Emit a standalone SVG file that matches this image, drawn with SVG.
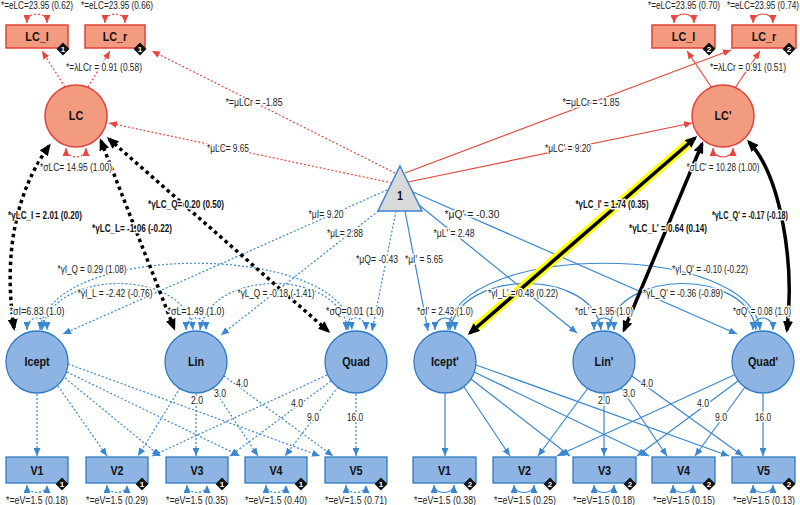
<svg xmlns="http://www.w3.org/2000/svg" width="800" height="505" viewBox="0 0 800 505">
<style>
text{font-family:"Liberation Sans",Arial,sans-serif}
.t{font-size:10.5px;fill:#222;text-anchor:middle;paint-order:stroke;stroke:#fff;stroke-width:3px;stroke-linejoin:round}
.tb{font-weight:bold;fill:#111}
.nl{font-size:13.5px;font-weight:bold;fill:#111;text-anchor:middle;transform:scaleX(0.8);transform-box:fill-box;transform-origin:center}
.bt{font-size:8px;font-weight:bold;fill:#fff;text-anchor:middle}
.rn{fill:#f29b7f;stroke:#e0413a;stroke-width:1.5}
.bn{fill:#8db4e2;stroke:#2e7ac4;stroke-width:1.3}
.tri{fill:#d9d9d9;stroke:#3a87cf;stroke-width:1.5}
.badge{fill:#111}
.lr{stroke:#e8473f;stroke-width:1.2;fill:none;marker-end:url(#mr)}
.lb{stroke:#3a87cf;stroke-width:1.2;fill:none;marker-end:url(#mb)}
.d{stroke-dasharray:2 2}
.two.lr{marker-start:url(#mr)}
.two.lb{marker-start:url(#mb)}
.k{stroke:#000;stroke-width:3.5;fill:none;marker-start:url(#mk);marker-end:url(#mk)}
.kd{stroke-dasharray:3.5 3.5}
.hl{stroke:#ffff00;stroke-width:9;fill:none}
</style>
<defs>
<marker id="mb" markerUnits="userSpaceOnUse" markerWidth="8" markerHeight="7" refX="8" refY="3.5" orient="auto-start-reverse"><path d="M0,0L8,3.5L0,7z" fill="#3a87cf"/></marker>
<marker id="mr" markerUnits="userSpaceOnUse" markerWidth="8" markerHeight="7" refX="8" refY="3.5" orient="auto-start-reverse"><path d="M0,0L8,3.5L0,7z" fill="#e8473f"/></marker>
<marker id="mk" markerUnits="userSpaceOnUse" markerWidth="12" markerHeight="10" refX="9" refY="5" orient="auto-start-reverse"><path d="M0,0L12,5L0,10z" fill="#000"/></marker>
</defs>
<rect width="800" height="505" fill="#fff"/>

<g id="connectors">
<path class="lr d" d="M65,87L42,51"/>
<path class="lr d" d="M88,87L110,51"/>
<path class="lr" d="M712,88L687,51"/>
<path class="lr" d="M735,88L760,51"/>
<path class="lr d" d="M395,173L152,51"/>
<path class="lr d" d="M392,183L109,123"/>
<path class="lr" d="M405,173L731,50"/>
<path class="lr" d="M408,182L692,123"/>
<path class="lr d two" d="M27,23C27,11 47,11 47,23"/>
<path class="lr d two" d="M105,23C105,11 125,11 125,23"/>
<path class="lr two" d="M674,23C674,11 694,11 694,23"/>
<path class="lr two" d="M753,23C753,11 773,11 773,23"/>
<path class="lr d two" d="M66,148C66,160 86,160 86,148"/>
<path class="lr two" d="M713,148C713,160 733,160 733,148"/>
<path class="lb d" d="M387,190L63,334"/>
<path class="lb d" d="M391,201L221,335"/>
<path class="lb d" d="M396,211L372,331"/>
<path class="lb" d="M413,192L737,334"/>
<path class="lb" d="M419,205L577,333"/>
<path class="lb" d="M405,211L428,331"/>
<path class="lb d two" d="M40,330C48,241 344,241 352,330"/>
<path class="lb d two" d="M42,330C52,268 186,268 193,330"/>
<path class="lb d two" d="M200,330C210,268 340,268 348,330"/>
<path class="lb two" d="M448,330C456,241 752,241 760,330"/>
<path class="lb two" d="M450,330C460,268 594,268 601,330"/>
<path class="lb two" d="M608,330C618,268 748,268 756,330"/>
<path class="lb d two" d="M27,330C27,314 47,314 47,330"/>
<path class="lb d two" d="M186,330C186,314 206,314 206,330"/>
<path class="lb d two" d="M346,330C346,314 366,314 366,330"/>
<path class="lb two" d="M435,330C435,314 455,314 455,330"/>
<path class="lb two" d="M594,330C594,314 614,314 614,330"/>
<path class="lb two" d="M753,330C753,314 773,314 773,330"/>
<path class="lb d" d="M37,394L37,456"/>
<path class="lb d" d="M58,386L107,456"/>
<path class="lb d" d="M65,378L160,456"/>
<path class="lb d" d="M67,372L240,456"/>
<path class="lb d" d="M68,364L320,456"/>
<path class="lb d" d="M180,388L138,456"/>
<path class="lb d" d="M196,394L196,456"/>
<path class="lb d" d="M213,388L258,456"/>
<path class="lb d" d="M224,376L333,456"/>
<path class="lb d" d="M327,375L152,456"/>
<path class="lb d" d="M331,381L230,456"/>
<path class="lb d" d="M338,387L285,456"/>
<path class="lb d" d="M356,394L356,456"/>
<path class="lb" d="M445,394L445,456"/>
<path class="lb" d="M464,387L510,456"/>
<path class="lb" d="M471,379L570,456"/>
<path class="lb" d="M474,372L649,456"/>
<path class="lb" d="M476,365L729,456"/>
<path class="lb" d="M588,388L538,456"/>
<path class="lb" d="M604,394L604,456"/>
<path class="lb" d="M621,388L667,456"/>
<path class="lb" d="M632,376L743,456"/>
<path class="lb" d="M734,375L557,456"/>
<path class="lb" d="M738,381L637,456"/>
<path class="lb" d="M745,387L695,456"/>
<path class="lb" d="M763,394L763,456"/>
<path class="lb d two" d="M27,485C27,495 47,495 47,485"/>
<path class="lb d two" d="M107,485C107,495 127,495 127,485"/>
<path class="lb d two" d="M187,485C187,495 207,495 207,485"/>
<path class="lb d two" d="M266,485C266,495 286,495 286,485"/>
<path class="lb d two" d="M346,485C346,495 366,495 366,485"/>
<path class="lb two" d="M434,485C434,495 454,495 454,485"/>
<path class="lb two" d="M514,485C514,495 534,495 534,485"/>
<path class="lb two" d="M594,485C594,495 614,495 614,485"/>
<path class="lb two" d="M673,485C673,495 693,495 693,485"/>
<path class="lb two" d="M753,485C753,495 773,495 773,485"/>
<path class="k kd" d="M14,328C5,268 10,200 49,146"/>
<path class="k kd" d="M101,141L174,328"/>
<path class="k kd" d="M109,139L328,331"/>
<path class="hl" d="M474,329L691,141"/>
<path class="k" d="M470,333L695,138"/>
<path class="k" d="M702,144L624,330"/>
<path class="k" d="M749,142C780,175 795,260 787,330"/>
</g>

<g id="labels">
<text class="t" x="37" y="8.5" textLength="72" lengthAdjust="spacingAndGlyphs">*=eLC=23.95 (0.62)</text>
<text class="t" x="117" y="8.5" textLength="72" lengthAdjust="spacingAndGlyphs">*=eLC=23.95 (0.66)</text>
<text class="t" x="684" y="8.5" textLength="72" lengthAdjust="spacingAndGlyphs">*=eLC=23.95 (0.70)</text>
<text class="t" x="763" y="8.5" textLength="72" lengthAdjust="spacingAndGlyphs">*=eLC=23.95 (0.74)</text>
<text class="t" x="104" y="70.5" textLength="76" lengthAdjust="spacingAndGlyphs">*=λLCr = 0.91 (0.58)</text>
<text class="t" x="748" y="70.5" textLength="76" lengthAdjust="spacingAndGlyphs">*=λLCr = 0.91 (0.51)</text>
<text class="t" x="254" y="105.5" textLength="57" lengthAdjust="spacingAndGlyphs">*=μLCr = -1.85</text>
<text class="t" x="591" y="105.5" textLength="57" lengthAdjust="spacingAndGlyphs">*=μLCr = -1.85</text>
<text class="t" x="228" y="151.5" textLength="42" lengthAdjust="spacingAndGlyphs">*μLC= 9.65</text>
<text class="t" x="568" y="151.5" textLength="46" lengthAdjust="spacingAndGlyphs">*μLC' = 9.20</text>
<text class="t" x="76" y="170.5" textLength="72" lengthAdjust="spacingAndGlyphs">*σLC= 14.95 (1.00)</text>
<text class="t" x="723" y="170.5" textLength="73" lengthAdjust="spacingAndGlyphs">*σLC' = 10.28 (1.00)</text>
<text class="t tb" x="45" y="218.5" textLength="74" lengthAdjust="spacingAndGlyphs">*γLC_I = 2.01 (0.20)</text>
<text class="t tb" x="132" y="231.5" textLength="80" lengthAdjust="spacingAndGlyphs">*γLC_L= -1.06 (-0.22)</text>
<text class="t tb" x="186" y="207.5" textLength="76" lengthAdjust="spacingAndGlyphs">*γLC_Q= 0.20 (0.50)</text>
<text class="t tb" x="612" y="207.5" textLength="73" lengthAdjust="spacingAndGlyphs">*γLC_I' = 1.74 (0.35)</text>
<text class="t tb" x="668" y="231.5" textLength="78" lengthAdjust="spacingAndGlyphs">*γLC_L' = 0.64 (0.14)</text>
<text class="t tb" x="750" y="218.5" textLength="76" lengthAdjust="spacingAndGlyphs">*γLC_Q' = -0.17 (-0.18)</text>
<text class="t" x="326" y="217.5" textLength="35" lengthAdjust="spacingAndGlyphs">*μI= 9.20</text>
<text class="t" x="345" y="236.5" textLength="36" lengthAdjust="spacingAndGlyphs">*μL= 2.88</text>
<text class="t" x="377" y="262.5" textLength="42" lengthAdjust="spacingAndGlyphs">*μQ= -0.43</text>
<text class="t" x="472" y="217.5" textLength="55" lengthAdjust="spacingAndGlyphs">*μQ' = -0.30</text>
<text class="t" x="454" y="236.5" textLength="41" lengthAdjust="spacingAndGlyphs">*μL' = 2.48</text>
<text class="t" x="424" y="262.5" textLength="38" lengthAdjust="spacingAndGlyphs">*μI' = 5.65</text>
<text class="t" x="92" y="272.5" textLength="69" lengthAdjust="spacingAndGlyphs">*γI_Q = 0.29 (1.08)</text>
<text class="t" x="115" y="296.5" textLength="75" lengthAdjust="spacingAndGlyphs">*γI_L = -2.42 (-0.76)</text>
<text class="t" x="276" y="296.5" textLength="77" lengthAdjust="spacingAndGlyphs">*γL_Q = -0.18 (-1.41)</text>
<text class="t" x="710" y="272.5" textLength="76" lengthAdjust="spacingAndGlyphs">*γI_Q' = -0.10 (-0.22)</text>
<text class="t" x="523" y="296.5" textLength="70" lengthAdjust="spacingAndGlyphs">*γI_L' = 0.48 (0.22)</text>
<text class="t" x="683" y="296.5" textLength="80" lengthAdjust="spacingAndGlyphs">*γL_Q' = -0.36 (-0.89)</text>
<text class="t" x="37" y="314.5" textLength="55" lengthAdjust="spacingAndGlyphs">*σI=6.83 (1.0)</text>
<text class="t" x="196" y="314.5" textLength="57" lengthAdjust="spacingAndGlyphs">*σL=1.49 (1.0)</text>
<text class="t" x="355" y="314.5" textLength="58" lengthAdjust="spacingAndGlyphs">*σQ=0.01 (1.0)</text>
<text class="t" x="445" y="314.5" textLength="56" lengthAdjust="spacingAndGlyphs">*σI' = 2.43 (1.0)</text>
<text class="t" x="604" y="314.5" textLength="58" lengthAdjust="spacingAndGlyphs">*σL' = 1.95 (1.0)</text>
<text class="t" x="762" y="314.5" textLength="58" lengthAdjust="spacingAndGlyphs">*σQ' = 0.08 (1.0)</text>
<text class="t" x="197" y="403.5" textLength="12" lengthAdjust="spacingAndGlyphs">2.0</text>
<text class="t" x="220" y="396.5" textLength="12" lengthAdjust="spacingAndGlyphs">3.0</text>
<text class="t" x="242" y="386.5" textLength="12" lengthAdjust="spacingAndGlyphs">4.0</text>
<text class="t" x="297" y="406.5" textLength="12" lengthAdjust="spacingAndGlyphs">4.0</text>
<text class="t" x="313" y="420.5" textLength="12" lengthAdjust="spacingAndGlyphs">9.0</text>
<text class="t" x="355" y="420.5" textLength="16" lengthAdjust="spacingAndGlyphs">16.0</text>
<text class="t" x="604" y="403.5" textLength="12" lengthAdjust="spacingAndGlyphs">2.0</text>
<text class="t" x="629" y="396.5" textLength="12" lengthAdjust="spacingAndGlyphs">3.0</text>
<text class="t" x="647" y="386.5" textLength="12" lengthAdjust="spacingAndGlyphs">4.0</text>
<text class="t" x="703" y="406.5" textLength="12" lengthAdjust="spacingAndGlyphs">4.0</text>
<text class="t" x="721" y="420.5" textLength="12" lengthAdjust="spacingAndGlyphs">9.0</text>
<text class="t" x="763" y="420.5" textLength="16" lengthAdjust="spacingAndGlyphs">16.0</text>
<text class="t" x="37" y="503.5" textLength="62" lengthAdjust="spacingAndGlyphs">*=eV=1.5 (0.18)</text>
<text class="t" x="117" y="503.5" textLength="62" lengthAdjust="spacingAndGlyphs">*=eV=1.5 (0.29)</text>
<text class="t" x="197" y="503.5" textLength="62" lengthAdjust="spacingAndGlyphs">*=eV=1.5 (0.35)</text>
<text class="t" x="276" y="503.5" textLength="62" lengthAdjust="spacingAndGlyphs">*=eV=1.5 (0.40)</text>
<text class="t" x="356" y="503.5" textLength="62" lengthAdjust="spacingAndGlyphs">*=eV=1.5 (0.71)</text>
<text class="t" x="445" y="503.5" textLength="62" lengthAdjust="spacingAndGlyphs">*=eV=1.5 (0.38)</text>
<text class="t" x="525" y="503.5" textLength="62" lengthAdjust="spacingAndGlyphs">*=eV=1.5 (0.25)</text>
<text class="t" x="604" y="503.5" textLength="62" lengthAdjust="spacingAndGlyphs">*=eV=1.5 (0.18)</text>
<text class="t" x="684" y="503.5" textLength="62" lengthAdjust="spacingAndGlyphs">*=eV=1.5 (0.15)</text>
<text class="t" x="764" y="503.5" textLength="62" lengthAdjust="spacingAndGlyphs">*=eV=1.5 (0.13)</text>
</g>

<g id="LC_l"><rect class="rn" x="6" y="25" width="62" height="23"/><text class="nl" x="37" y="41.5">LC_l</text><path class="badge" d="M63,42.5L69.5,49L63,55.5L56.5,49z"/><text class="bt" x="63" y="52">1</text></g>
<g id="LC_r"><rect class="rn" x="85" y="25" width="60" height="23"/><text class="nl" x="115" y="41.5">LC_r</text><path class="badge" d="M140,42.5L146.5,49L140,55.5L133.5,49z"/><text class="bt" x="140" y="52">1</text></g>
<g id="LC_l2"><rect class="rn" x="652" y="25" width="63" height="23"/><text class="nl" x="683.5" y="41.5">LC_l</text><path class="badge" d="M709,42.5L715.5,49L709,55.5L702.5,49z"/><text class="bt" x="709" y="52">2</text></g>
<g id="LC_r2"><rect class="rn" x="732" y="25" width="64" height="23"/><text class="nl" x="764" y="41.5">LC_r</text><path class="badge" d="M789,42.5L795.5,49L789,55.5L782.5,49z"/><text class="bt" x="789" y="52">2</text></g>
<g id="LC"><circle class="rn" cx="76" cy="116" r="31"/><text class="nl" x="76" y="120.5">LC</text></g>
<g id="LC2"><circle class="rn" cx="723" cy="116" r="31"/><text class="nl" x="723" y="120.5">LC'</text></g>
<g id="one"><path class="tri" d="M400,166L422,211L378,211z"/><text class="nl" x="400" y="200">1</text></g>
<g id="Icept"><circle class="bn" cx="37" cy="362" r="31"/><text class="nl" x="37" y="366">Icept</text></g>
<g id="Lin"><circle class="bn" cx="196" cy="362" r="31"/><text class="nl" x="196" y="366">Lin</text></g>
<g id="Quad"><circle class="bn" cx="356" cy="362" r="31"/><text class="nl" x="356" y="366">Quad</text></g>
<g id="Icept2"><circle class="bn" cx="445" cy="362" r="31"/><text class="nl" x="445" y="366">Icept'</text></g>
<g id="Lin2"><circle class="bn" cx="604" cy="362" r="31"/><text class="nl" x="604" y="366">Lin'</text></g>
<g id="Quad2"><circle class="bn" cx="763" cy="362" r="31"/><text class="nl" x="763" y="366">Quad'</text></g>
<g id="V1"><rect class="bn" x="6" y="457" width="62" height="26"/><text class="nl" x="37" y="475">V1</text><path class="badge" d="M62,477.5L68.5,484L62,490.5L55.5,484z"/><text class="bt" x="62" y="487">1</text></g>
<g id="V2"><rect class="bn" x="86" y="457" width="62" height="26"/><text class="nl" x="117" y="475">V2</text><path class="badge" d="M142,477.5L148.5,484L142,490.5L135.5,484z"/><text class="bt" x="142" y="487">1</text></g>
<g id="V3"><rect class="bn" x="166" y="457" width="62" height="26"/><text class="nl" x="197" y="475">V3</text><path class="badge" d="M222,477.5L228.5,484L222,490.5L215.5,484z"/><text class="bt" x="222" y="487">1</text></g>
<g id="V4"><rect class="bn" x="245" y="457" width="62" height="26"/><text class="nl" x="276" y="475">V4</text><path class="badge" d="M301,477.5L307.5,484L301,490.5L294.5,484z"/><text class="bt" x="301" y="487">1</text></g>
<g id="V5"><rect class="bn" x="325" y="457" width="62" height="26"/><text class="nl" x="356" y="475">V5</text><path class="badge" d="M381,477.5L387.5,484L381,490.5L374.5,484z"/><text class="bt" x="381" y="487">1</text></g>
<g id="V1b"><rect class="bn" x="413" y="457" width="63" height="26"/><text class="nl" x="444.5" y="475">V1</text><path class="badge" d="M470,477.5L476.5,484L470,490.5L463.5,484z"/><text class="bt" x="470" y="487">2</text></g>
<g id="V2b"><rect class="bn" x="493" y="457" width="63" height="26"/><text class="nl" x="524.5" y="475">V2</text><path class="badge" d="M550,477.5L556.5,484L550,490.5L543.5,484z"/><text class="bt" x="550" y="487">2</text></g>
<g id="V3b"><rect class="bn" x="573" y="457" width="63" height="26"/><text class="nl" x="604.5" y="475">V3</text><path class="badge" d="M630,477.5L636.5,484L630,490.5L623.5,484z"/><text class="bt" x="630" y="487">2</text></g>
<g id="V4b"><rect class="bn" x="652" y="457" width="63" height="26"/><text class="nl" x="683.5" y="475">V4</text><path class="badge" d="M709,477.5L715.5,484L709,490.5L702.5,484z"/><text class="bt" x="709" y="487">2</text></g>
<g id="V5b"><rect class="bn" x="732" y="457" width="63" height="26"/><text class="nl" x="763.5" y="475">V5</text><path class="badge" d="M789,477.5L795.5,484L789,490.5L782.5,484z"/><text class="bt" x="789" y="487">2</text></g>
</svg>
